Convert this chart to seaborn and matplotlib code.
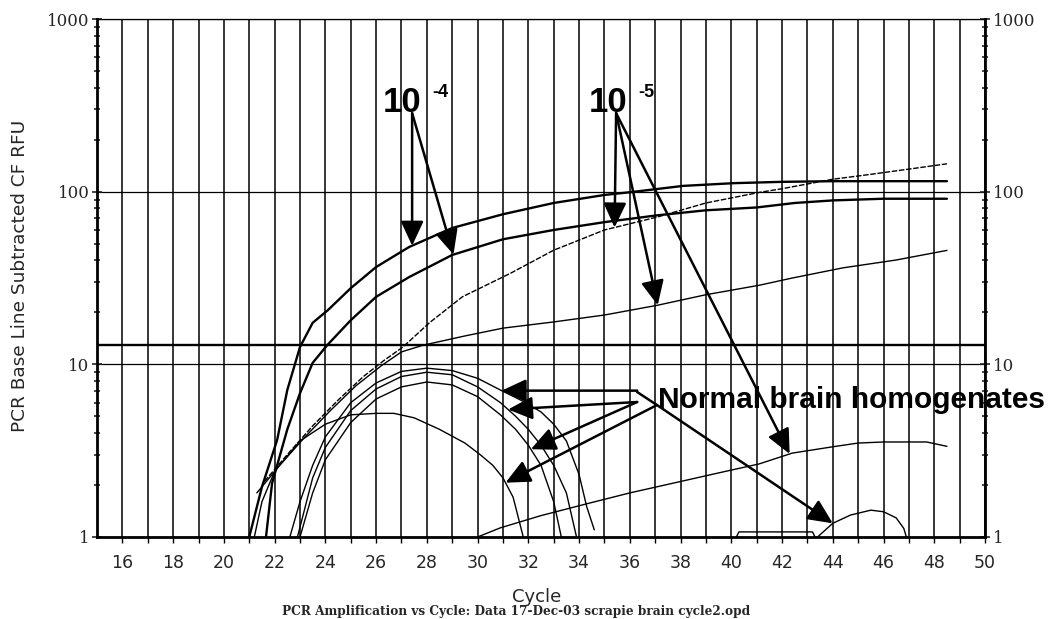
import numpy as np
import pandas as pd
import matplotlib
matplotlib.use("Agg")
import matplotlib.pyplot as plt
import seaborn as sns

# ---------------- data ----------------
cyc_a = [21.0, 21.5, 22.1, 22.5, 23.0, 23.5, 24.1, 25.0, 26.0, 27.3, 29.0, 31.0, 33.0, 35.0, 36.1, 38.1, 40.1, 42.0, 44.0, 46.0, 48.5]
rfu_a = [1.0, 1.95, 3.65, 7.1, 12.6, 17.4, 20.6, 27.6, 36.6, 47.8, 61.6, 74.0, 86.0, 95.7, 99.6, 108.0, 112.0, 114.0, 115.0, 115.0, 115.0]

cyc_b = [21.66, 21.9, 22.5, 23.0, 23.5, 24.07, 25.0, 26.0, 27.3, 29.0, 31.0, 33.0, 35.0, 37.1, 39.0, 41.0, 42.5, 44.0, 46.0, 48.5]
rfu_b = [1.0, 2.05, 4.2, 6.8, 10.2, 12.9, 18.0, 24.6, 32.0, 43.0, 53.0, 60.0, 66.6, 73.0, 78.0, 81.0, 86.0, 89.0, 91.0, 91.0]

cyc_c = [21.6, 22.5, 23.5, 24.5, 25.5, 26.3, 27.06, 28.1, 29.4, 31.3, 33.0, 35.0, 37.1, 39.0, 41.1, 42.0, 44.0, 45.5, 47.3, 48.5]
rfu_c = [2.1, 3.0, 4.4, 6.2, 8.5, 10.5, 12.6, 17.4, 24.6, 33.7, 45.8, 60.0, 71.4, 86.0, 99.0, 104.0, 118.0, 126.0, 137.0, 145.0]

cyc_d = [21.3, 22.2, 23.2, 24.2, 25.2, 26.2, 27.0, 27.85, 29.5, 31.0, 33.0, 35.0, 37.1, 39.0, 41.1, 42.4, 44.4, 46.5, 48.5]
rfu_d = [1.8, 2.6, 3.8, 5.4, 7.5, 9.8, 11.8, 12.9, 14.6, 16.2, 17.6, 19.3, 22.0, 25.3, 28.7, 31.6, 36.2, 40.2, 45.7]

cyc_e = [30.0, 30.9, 32.5, 34.4, 36.0, 37.9, 39.5, 41.1, 42.4, 44.0, 45.0, 46.0, 47.7, 48.5]
rfu_e = [1.0, 1.13, 1.33, 1.57, 1.8, 2.08, 2.35, 2.65, 3.06, 3.33, 3.5, 3.55, 3.55, 3.35]

cyc_n1 = [22.6, 23.0, 23.5, 24.0, 25.0, 26.0, 27.0, 28.0, 29.0, 30.0, 30.9, 31.8, 32.5, 33.0, 33.5, 34.0, 34.3, 34.6]
rfu_n1 = [1.0, 1.6, 2.6, 3.8, 6.0, 7.8, 9.1, 9.5, 9.2, 8.3, 7.1, 6.1, 5.3, 4.5, 3.6, 2.3, 1.5, 1.1]

cyc_n2 = [22.9, 23.5, 24.0, 25.0, 26.0, 27.0, 28.0, 29.0, 30.0, 30.9, 31.5, 32.0, 32.5, 33.0, 33.5, 33.9]
rfu_n2 = [1.0, 2.2, 3.3, 5.4, 7.2, 8.5, 9.0, 8.7, 7.4, 6.0, 5.0, 4.2, 3.4, 2.6, 1.8, 1.0]

cyc_n3 = [23.0, 23.5, 24.0, 25.0, 26.0, 27.0, 28.0, 29.0, 30.0, 30.9, 31.5, 32.0, 32.5, 33.0, 33.3]
rfu_n3 = [1.0, 1.8, 2.8, 4.6, 6.3, 7.4, 7.9, 7.6, 6.5, 5.1, 4.2, 3.4, 2.6, 1.6, 1.0]

cyc_n4 = [21.2, 21.5, 22.0, 23.0, 24.0, 25.0, 26.0, 26.7, 27.5, 28.5, 29.5, 30.1, 30.6, 31.0, 31.4, 31.8]
rfu_n4 = [1.0, 1.6, 2.4, 3.6, 4.5, 5.1, 5.2, 5.2, 4.9, 4.2, 3.5, 3.0, 2.6, 2.2, 1.7, 1.0]

cyc_n5 = [43.4, 44.0, 44.7, 45.5, 46.0, 46.5, 46.8, 46.9]
rfu_n5 = [1.0, 1.2, 1.34, 1.43, 1.4, 1.29, 1.12, 1.0]

cyc_n6 = [40.2, 40.3, 43.2, 43.3]
rfu_n6 = [1.0, 1.07, 1.07, 1.0]

threshold = 12.9

x_major = list(range(16, 51, 2))
x_minor = list(range(17, 50, 2))
y_ticks = [1, 10, 100, 1000]
y_labels = ["1", "10", "100", "1000"]

curves = {
    "1e-4 a": (cyc_a, rfu_a), "1e-4 b": (cyc_b, rfu_b),
    "1e-5 c": (cyc_c, rfu_c), "1e-5 d": (cyc_d, rfu_d), "1e-5 e": (cyc_e, rfu_e),
    "normal 1": (cyc_n1, rfu_n1), "normal 2": (cyc_n2, rfu_n2), "normal 3": (cyc_n3, rfu_n3),
    "normal 4": (cyc_n4, rfu_n4), "normal 5": (cyc_n5, rfu_n5), "normal 6": (cyc_n6, rfu_n6),
}

df = pd.concat([pd.DataFrame({"cycle": c, "rfu": r, "curve": k}) for k, (c, r) in curves.items()],
               ignore_index=True)

# ---------------- figure ----------------
sns.set_style("white")
plt.rcParams["font.family"] = ["DejaVu Sans"]

fig = plt.figure(figsize=(10.5, 6.19), dpi=100)
ax = fig.add_axes([0.0924, 0.1325, 0.8457, 0.8368])

sizes = {k: (1.7 if k.startswith("1e-4") else 1.0) for k in curves}
dashes = {k: ((4, 1.2) if k in ("1e-5 c",) else "") for k in curves}
palette = {k: "black" for k in curves}

sns.lineplot(data=df, x="cycle", y="rfu", hue="curve", size="curve", style="curve",
             palette=palette, sizes=sizes, dashes=dashes, estimator=None, sort=False,
             legend=False, ax=ax, zorder=3)

ax.set_yscale("log")
ax.set_xlim(15, 50)
ax.set_ylim(1, 1000)

ax.set_xticks(x_major)
ax.set_xticks(x_minor, minor=True)
ax.set_xticklabels([str(v) for v in x_major], fontsize=12.5)
ax.set_yticks(y_ticks, labels=y_labels, fontfamily="DejaVu Serif", fontsize=12)
ax.yaxis.set_minor_locator(matplotlib.ticker.LogLocator(base=10, subs=np.arange(2, 10)))
ax.yaxis.set_minor_formatter(matplotlib.ticker.NullFormatter())

ax.grid(which="both", axis="x", color="black", lw=1.1)
ax.grid(which="major", axis="y", color="black", lw=0.9)
ax.axhline(threshold, color="black", lw=1.7, zorder=2)

ax.tick_params(axis="x", which="both", direction="out", length=4, width=1, color="black",
               bottom=True, pad=8)
ax.tick_params(axis="y", which="major", direction="inout", length=7, width=1.2,
               left=True, right=True, labelleft=True, labelright=True, pad=2)
ax.tick_params(axis="y", which="minor", direction="inout", length=5, width=1.2,
               left=True, right=True)

for side in ("left", "bottom", "right"):
    ax.spines[side].set_linewidth(2)
    ax.spines[side].set_color("black")
ax.spines["top"].set_linewidth(0.9)
ax.spines["top"].set_color("black")

ax.set_xlabel("")
ax.set_ylabel("")
fig.text(537 / 1050, 1 - 597 / 619, "Cycle", ha="center", va="center", fontsize=13)
fig.text(516 / 1050, 1 - 612 / 619,
         "PCR Amplification vs Cycle: Data 17-Dec-03 scrapie brain cycle2.opd",
         ha="center", va="center", fontsize=8.7, fontfamily="DejaVu Serif", fontweight="bold")
fig.text(20 / 1050, 1 - 276 / 619, "PCR Base Line Subtracted CF RFU", rotation=90,
         ha="center", va="center", fontsize=13.3)


# ---------------- annotations ----------------
def on_curve(cyc, rfu, c):
    return 10 ** np.interp(c, cyc, np.log10(rfu))


bold = dict(fontfamily="Liberation Sans", fontweight="bold", color="black")
ax.text(0.344, 0.8205, "10", transform=ax.transAxes, ha="center", va="baseline", fontsize=25, **bold)
ax.text(0.3773, 0.8494, "-4", transform=ax.transAxes, ha="left", va="baseline", fontsize=13, **bold)
ax.text(0.576, 0.8205, "10", transform=ax.transAxes, ha="center", va="baseline", fontsize=25, **bold)
ax.text(0.609, 0.8494, "-5", transform=ax.transAxes, ha="left", va="baseline", fontsize=13, **bold)
ax.text(0.6318, 0.249, "Normal brain homogenates", transform=ax.transAxes, ha="left",
        va="baseline", fontsize=21.5, clip_on=False, zorder=5, **bold)

arrow = dict(arrowstyle="-|>,head_length=0.75,head_width=0.35", color="black", lw=1.8,
             shrinkA=0, shrinkB=0, mutation_scale=20)
plain = dict(arrowstyle="-", color="black", lw=1.8, shrinkA=0, shrinkB=0)


def point(src, xy, tip_c, cyc, rfu):
    ax.annotate("", xy=(tip_c, on_curve(cyc, rfu, tip_c)), xytext=xy, arrowprops=src, zorder=6)


o4 = (27.42, 285)
point(arrow, o4, 27.42, cyc_a, rfu_a)
point(arrow, o4, 29.05, cyc_b, rfu_b)
o5 = (35.46, 285)
point(arrow, o5, 35.4, cyc_c, rfu_c)
point(arrow, o5, 37.1, cyc_d, rfu_d)
point(arrow, o5, 42.3, cyc_e, rfu_e)

on1 = (36.29, 6.91)
on2 = (36.29, 6.05)
on3 = (37.07, 5.81)
ax.annotate("", xy=on1, xytext=on3, arrowprops=plain, zorder=6)
ax.annotate("", xy=(30.95, on_curve(cyc_n1, rfu_n1, 30.95)),
            xytext=(on1[0], on_curve(cyc_n1, rfu_n1, 30.95)), arrowprops=arrow, zorder=6)
point(arrow, on2, 31.2, cyc_n2, rfu_n2)
point(arrow, on2, 32.1, cyc_n3, rfu_n3)
point(arrow, on3, 31.1, cyc_n4, rfu_n4)
point(arrow, on3, 44.0, cyc_n5, rfu_n5)

fig.savefig("out.png", dpi=100, facecolor="white")
